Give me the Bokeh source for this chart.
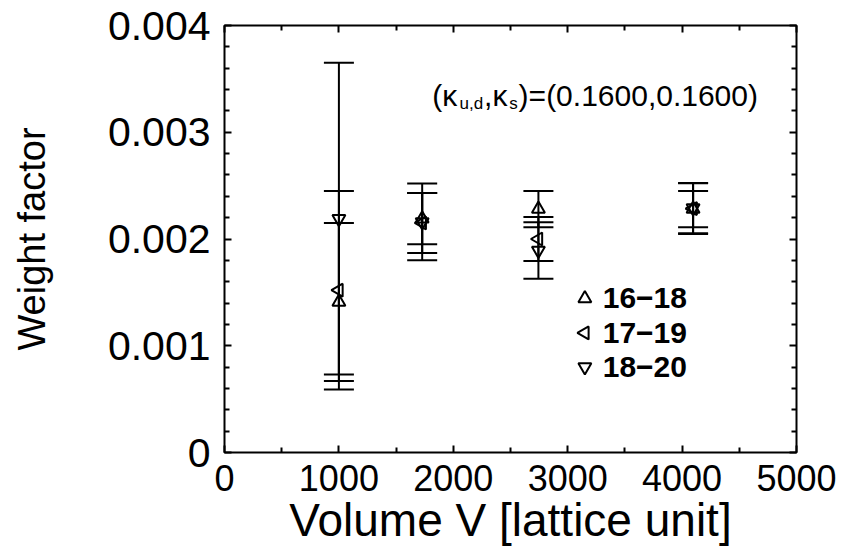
import numpy as np
from bokeh.plotting import figure
from bokeh.models import (Range1d, FixedTicker, LinearAxis, ColumnDataSource, Label)
from bokeh.core.properties import value
from bokeh.embed import file_html
from bokeh.resources import INLINE

# ---- data ----
volumes = [1000, 1728, 2744, 4096]
series_names = ["16\u221218", "17\u221219", "18\u221220"]
w_16_18 = [0.00141, 0.00219, 0.00228, 0.00228]
e_16_18 = [0.00074, 0.00024, 0.00017, 0.00017]
w_17_19 = [0.00152, 0.00215, 0.00200, 0.002285]
e_17_19 = [0.00093, 0.00028, 0.000205, 0.000238]
w_18_20 = [0.00219, 0.00216, 0.001893, 0.00229]
e_18_20 = [0.00146, 0.00036, 0.000265, 0.000235]

x_ticks = [0, 1000, 2000, 3000, 4000, 5000]
x_tick_labels = ["0", "1000", "2000", "3000", "4000", "5000"]
y_ticks = [0, 0.001, 0.002, 0.003, 0.004]
y_tick_labels = ["0", "0.001", "0.002", "0.003", "0.004"]

FONT = "Liberation Sans"

p = figure(width=846, height=548, output_backend="svg", toolbar_location=None,
           x_range=Range1d(0, 5000), y_range=Range1d(0, 0.004),
           min_border_left=224, min_border_right=50, min_border_top=25,
           min_border_bottom=96,
           x_axis_label="Volume V [lattice unit]", y_axis_label="Weight factor")
p.xgrid.visible = False
p.ygrid.visible = False
p.outline_line_color = "black"
p.outline_line_width = 2
p.background_fill_color = "white"
p.border_fill_color = "white"

x_minor = list(np.arange(500, 5000, 1000))
y_minor = [t for t in np.round(np.arange(0, 0.0040001, 0.0002), 6) if round(t * 1e4) % 10 != 0]

def style_axis(ax, ticks, minor, labels, show_labels, tick_fs="36px", title_fs="38px"):
    ax.ticker = FixedTicker(ticks=ticks, minor_ticks=minor)
    ax.axis_line_color = None
    ax.major_tick_in = 7
    ax.major_tick_out = 0
    ax.minor_tick_in = 5
    ax.minor_tick_out = 0
    ax.major_tick_line_width = 2
    ax.minor_tick_line_width = 2
    ax.major_tick_line_color = "black"
    ax.minor_tick_line_color = "black"
    if show_labels:
        ax.major_label_overrides = {t: l for t, l in zip(ticks, labels)}
        ax.major_label_text_font = FONT
        ax.major_label_text_font_size = tick_fs
        ax.major_label_text_color = "black"
        ax.axis_label_text_font = FONT
        ax.axis_label_text_font_size = title_fs
        ax.axis_label_text_font_style = "normal"
        ax.axis_label_text_color = "black"
    else:
        ax.major_label_text_font_size = "0px"
        ax.major_label_standoff = 0

style_axis(p.xaxis[0], x_ticks, x_minor, x_tick_labels, True, "36px", "46px")
style_axis(p.yaxis[0], y_ticks, y_minor, y_tick_labels, True, "41px", "38px")
p.xaxis[0].major_label_standoff = 12
p.xaxis[0].axis_label_standoff = 0
p.yaxis[0].major_label_standoff = 14
p.yaxis[0].axis_label_standoff = 52

top_ax = LinearAxis()
style_axis(top_ax, x_ticks, x_minor, x_tick_labels, False)
p.add_layout(top_ax, "above")
right_ax = LinearAxis()
style_axis(right_ax, y_ticks, y_minor, y_tick_labels, False)
p.add_layout(right_ax, "right")

# ---- series ----
markers = ["triangle", "triangle", "inverted_triangle"]
angles = [0.0, np.pi / 2, 0.0]
series = [(w_16_18, e_16_18), (w_17_19, e_17_19), (w_18_20, e_18_20)]
for (w, e), marker, ang in zip(series, markers, angles):
    w = np.array(w); e = np.array(e)
    src = ColumnDataSource(dict(x=volumes, y=w, lo=w - e, hi=w + e))
    p.segment(x0="x", y0="lo", x1="x", y1="hi", source=src, line_color="black", line_width=2)
    p.scatter(x="x", y="lo", source=src, marker="dash", size=30, line_color="black", line_width=2)
    p.scatter(x="x", y="hi", source=src, marker="dash", size=30, line_color="black", line_width=2)
    p.scatter(x="x", y="y", source=src, marker=marker, angle=ang, size=13,
              line_color="black", line_width=2, fill_color=None)

# ---- legend (key markers + labels) ----
legend_marker_x = 3150
legend_text_x = 3306
legend_rows_y = [0.001443, 0.00112, 0.000801]
p.scatter(x=[legend_marker_x] * 3, y=legend_rows_y, marker=markers, angle=angles, size=13,
          line_color="black", line_width=2, fill_color=None)
p.text(x=[legend_text_x] * 3, y=legend_rows_y, text=series_names,
       text_font=value(FONT), text_font_style="bold", text_font_size="30px",
       text_color="black", text_baseline="middle", text_align="left")

# ---- annotation (kappa values) ----
main_y = 0.003346
sub_y = 0.003271
pieces = [("(\u03ba", 1817, main_y, "30px"),
          ("u,d", 2055, sub_y, "17px"),
          (",\u03ba", 2269, main_y, "30px"),
          ("s", 2490, sub_y, "17px"),
          (")=(0.1600,0.1600)", 2571, main_y, "30px")]
for txt, xx, yy, fs in pieces:
    p.add_layout(Label(x=xx, y=yy, text=txt, text_font=FONT, text_font_size=fs,
                       text_color="black", text_baseline="alphabetic", text_align="left"))

open("out.html", "w").write(file_html(p, INLINE))
